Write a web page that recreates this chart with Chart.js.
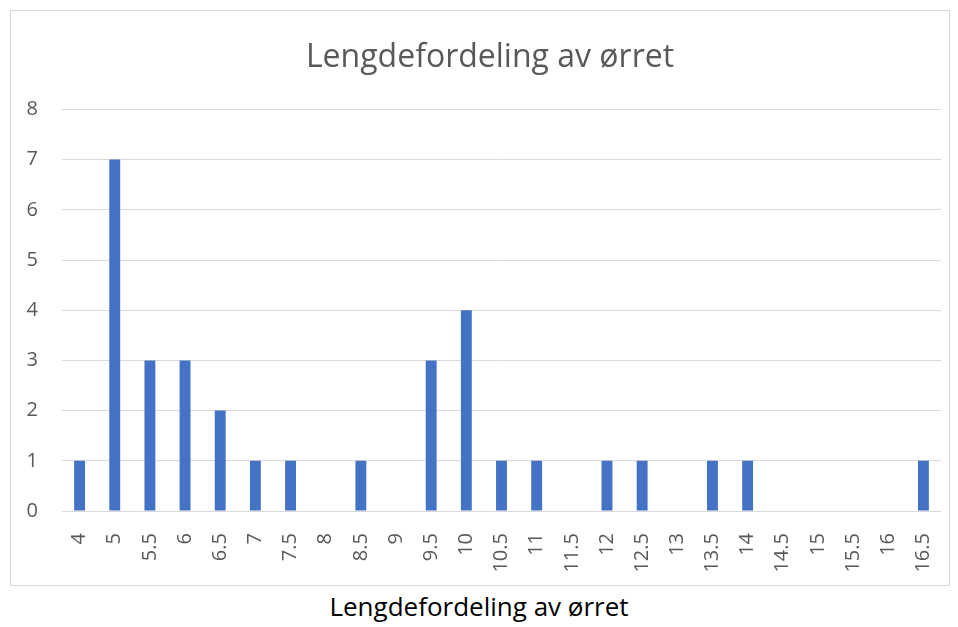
<!DOCTYPE html>
<html>
<head>
<meta charset="utf-8">
<script src="https://cdn.jsdelivr.net/npm/chart.js@4"></script>
<style>
    body { margin: 0; background: #fff; width: 958px; height: 627px; position: relative; overflow: hidden; }
    #box { position: absolute; left: 10px; top: 10px; width: 938px; height: 574px; border: 1px solid #d9d9d9; }
    #caption { position: absolute; left: 0; width: 958px; top: 588px; text-align: center;
        font-family: "Open Sans", sans-serif; font-size: 26px; color: #000; }
</style>
</head>
<body>
<div id="box"><canvas id="lengde" width="938" height="574"></canvas></div>
<div id="caption">Lengdefordeling av ørret</div>
<script>
    // lengdeklasser (cm) og antall fisk
    var lengths = ['4', '5', '5.5', '6', '6.5', '7', '7.5', '8', '8.5', '9', '9.5', '10', '10.5',
        '11', '11.5', '12', '12.5', '13', '13.5', '14', '14.5', '15', '15.5', '16', '16.5'];
    var counts = [1, 7, 3, 3, 2, 1, 1, 0, 1, 0, 3, 4, 1, 1, 0, 1, 1, 0, 1, 1, 0, 0, 0, 0, 1];
    var yTicks = [0, 1, 2, 3, 4, 5, 6, 7, 8];

    var labelFont = { family: 'Open Sans', size: 20 };

    // Excel centres the title a bit to the right of the canvas middle
    var titleShift = {
        id: 'titleShift',
        afterLayout: function (chart) {
            if (chart.titleBlock) chart.titleBlock.left += 28;
        }
    };

    var ctx = document.getElementById('lengde').getContext('2d');
    var chart = new Chart(ctx, {
        type: 'bar',
        data: {
            labels: lengths,
            datasets: [{
                label: 'Antall',
                backgroundColor: '#4472c4',
                data: counts,
                barPercentage: 0.31,
                categoryPercentage: 1
            }]
        },
        plugins: [titleShift],
        options: {
            responsive: false,
            animation: false,
            layout: { padding: { left: 0, right: 8, top: 0, bottom: 0 } },
            plugins: {
                legend: { display: false },
                tooltip: { enabled: false },
                title: {
                    display: true,
                    text: 'Lengdefordeling av ørret',
                    color: '#595959',
                    font: { family: 'Open Sans', size: 32, weight: 'normal' },
                    padding: { top: 28, bottom: 32 }
                }
            },
            scales: {
                x: {
                    grid: { display: false },
                    border: { display: false },
                    ticks: {
                        color: '#595959',
                        font: labelFont,
                        minRotation: 90,
                        maxRotation: 90,
                        autoSkip: false,
                        padding: 14
                    },
                    afterFit: function (s) {
                        s.height = 74;
                        s.paddingLeft = 0;
                        s.paddingRight = 0;
                    }
                },
                y: {
                    min: 0,
                    max: 8,
                    afterBuildTicks: function (s) {
                        s.ticks = yTicks.map(function (v) { return { value: v }; });
                    },
                    grid: { color: '#d9d9d9', lineWidth: 1, drawTicks: false },
                    border: { display: false },
                    ticks: { color: '#595959', font: labelFont, padding: 24 },
                    afterFit: function (s) {
                        s.width = 51;
                        s.paddingTop = 0;
                        s.paddingBottom = 0;
                    }
                }
            }
        }
    });
</script>
</body>
</html>
